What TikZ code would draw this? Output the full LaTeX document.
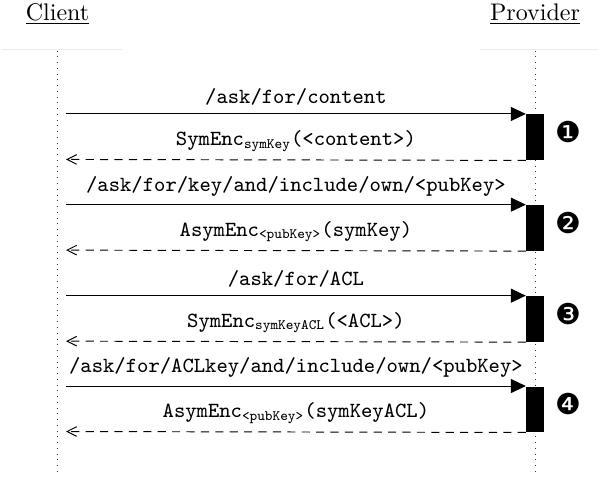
\documentclass[tikz,border=0pt]{standalone}
\usepackage{fontspec}
\usepackage{tikz}
\usetikzlibrary{
    arrows.meta,
    positioning
}
\newfontfamily\dingfont{DejaVu Sans}
\tikzset{
    lifeline/.style={dotted, black!80},
    call/.style={-{Triangle[length=6.2pt,width=5.8pt]}},
    reply/.style={dash pattern=on 3.4pt off 2.6pt, -{Straight Barb[length=4pt,width=4pt]}},
    msg/.style={above, font=\small\ttfamily},
    actbar/.style={rectangle, fill=black, inner sep=0pt, anchor=north,
        minimum width=0.256cm, minimum height=0.666cm},
    num/.style={font=\dingfont\large, yshift=2pt}
}

\begin{document}
\begin{tikzpicture}
        \useasboundingbox (0,0) rectangle (8.757,-6.971);

        \node[anchor=base] (client)   at (0.842,-0.293) {\underline{Client}};
        \node[anchor=base] (provider) at (7.835,-0.293) {\underline{Provider}};

        \draw[black!8] (0.03,-0.722) -- (1.787,-0.722);
        \draw[black!8] (7.03,-0.722) -- (8.757,-0.722);

        \coordinate (cltop) at (0.842,-0.740);
        \coordinate (clbot) at (0.842,-6.971);
        \coordinate (prtop) at (7.835,-0.740);
        \coordinate (prbot) at (7.835,-6.971);
        \draw[lifeline] (cltop) -- (clbot);
        \draw[lifeline] (prtop) -- (prbot);

        \begin{scope}[shift={(0,-1.669)}]
            \coordinate (c1) at (0.967,0);
            \coordinate (r1) at (0.967,-0.666);
            \node[actbar] (b1) at (7.835,0) {};

            \draw[call]  (c1) -- node[msg]{/ask/for/content} (b1.north west);
            \draw[reply] (b1.south west) -- node[msg]{SymEnc\textsubscript{symKey}(<content>)} (r1);
            \node[num, right=1pt of b1] (n1) {❶};
        \end{scope}

        \begin{scope}[shift={(0,-2.997)}]
            \coordinate (c2) at (0.967,0);
            \coordinate (r2) at (0.967,-0.666);
            \node[actbar] (b2) at (7.835,0) {};

            \draw[call]  (c2) -- node[msg]{/ask/for/key/and/include/own/<pubKey>} (b2.north west);
            \draw[reply] (b2.south west) -- node[msg]{AsymEnc\textsubscript{<pubKey>}(symKey)} (r2);
            \node[num, right=1pt of b2] (n2) {❷};
        \end{scope}

        \begin{scope}[shift={(0,-4.330)}]
            \coordinate (c3) at (0.967,0);
            \coordinate (r3) at (0.967,-0.666);
            \node[actbar] (b3) at (7.835,0) {};

            \draw[call]  (c3) -- node[msg]{/ask/for/ACL} (b3.north west);
            \draw[reply] (b3.south west) -- node[msg]{SymEnc\textsubscript{symKeyACL}(<ACL>)} (r3);
            \node[num, right=1pt of b3] (n3) {❸};
        \end{scope}

        \begin{scope}[shift={(0,-5.653)}]
            \coordinate (c4) at (0.967,0);
            \coordinate (r4) at (0.967,-0.666);
            \node[actbar] (b4) at (7.835,0) {};

            \draw[call]  (c4) -- node[msg]{/ask/for/ACLkey/and/include/own/<pubKey>} (b4.north west);
            \draw[reply] (b4.south west) -- node[msg]{AsymEnc\textsubscript{<pubKey>}(symKeyACL)} (r4);
            \node[num, right=1pt of b4] (n4) {❹};
        \end{scope}
    \end{tikzpicture}
\end{document}
